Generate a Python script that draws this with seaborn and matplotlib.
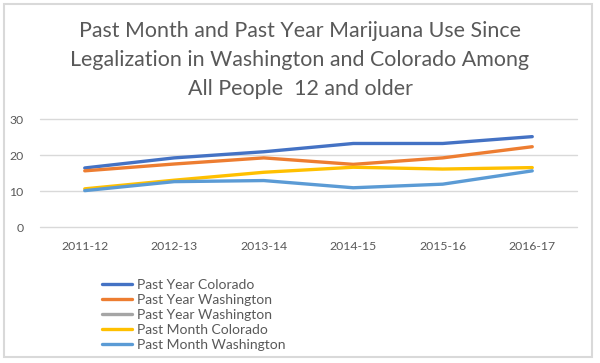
import matplotlib
matplotlib.use("Agg")
import matplotlib.pyplot as plt
import seaborn as sns
import pandas as pd
import numpy as np
from matplotlib.patches import Rectangle
from matplotlib.lines import Line2D

years = ["2011-12", "2012-13", "2013-14", "2014-15", "2015-16", "2016-17"]
series_names = ["Past Year Colorado", "Past Year Washington", "Past Year Washington",
                "Past Month Colorado", "Past Month Washington"]
past_year_colorado = [16.4, 19.2, 20.9, 23.2, 23.2, 25.1]
past_year_washington = [15.6, 17.5, 19.2, 17.4, 19.2, 22.3]
past_year_washington_2 = [np.nan] * 6
past_month_colorado = [10.6, 13.0, 15.2, 16.6, 16.1, 16.5]
past_month_washington = [10.1, 12.6, 12.9, 10.9, 11.9, 15.6]
colors = ["#4472C4", "#ED7D31", "#A5A5A5", "#FFC000", "#5B9BD5"]
yticks = [0, 10, 20, 30]
title = "Past Month and Past Year Marijuana Use Since\nLegalization in Washington and Colorado Among\nAll People  12 and older"

sns.set_theme(style="white")
plt.rcParams['font.family'] = ['Lato', 'DejaVu Sans']

fig = plt.figure(figsize=(6, 3.63), dpi=100)
fig.patch.set_facecolor("white")
fig.add_artist(Rectangle((4/600, 1-357/363), 588/600, 353/363, transform=fig.transFigure,
                         fill=False, edgecolor="#D9D9D9", linewidth=1.5))

ax = fig.add_axes([40/600, 1-227/363, 537/600, 108/363])
all_vals = [past_year_colorado, past_year_washington, past_year_washington_2,
            past_month_colorado, past_month_washington]
x = np.arange(len(years))
handles = []
for name, vals, c in zip(series_names, all_vals, colors):
    v = np.array(vals, dtype=float)
    handles.append(Line2D([], [], color=c, linewidth=2.4))
    if np.all(np.isnan(v)):
        continue
    df = pd.DataFrame({"x": x, "y": v})
    sns.lineplot(data=df, x="x", y="y", color=c, linewidth=2.4, ax=ax, legend=False)

ax.set_xlim(-0.5, len(years) - 0.5)
ax.set_ylim(0, 30)
ax.set_yticks(yticks)
ax.set_xticks(x)
ax.set_xticklabels(years)
ax.set_xlabel("")
ax.set_ylabel("")
for s in ax.spines.values():
    s.set_visible(False)
ax.grid(axis="y", color="#D9D9D9", linewidth=1)
ax.set_axisbelow(True)
ax.tick_params(axis="both", length=0, labelsize=8.8, colors="#595959")
ax.tick_params(axis="x", pad=10)
ax.tick_params(axis="y", pad=12)
for g in ax.get_ygridlines():
    g.set_clip_on(False)

fig.text(0.5, 1-60/363, title, ha="center", va="center", fontsize=15.4,
         color="#595959", linespacing=1.58)

leg = fig.legend(handles, series_names, loc="upper left",
                 bbox_to_anchor=(96/600, 1-273/363), frameon=False,
                 fontsize=10, handlelength=2.2, handletextpad=0.35,
                 labelspacing=0.22, borderaxespad=0)
for t in leg.get_texts():
    t.set_color("#595959")

fig.savefig("out.png", dpi=100)
